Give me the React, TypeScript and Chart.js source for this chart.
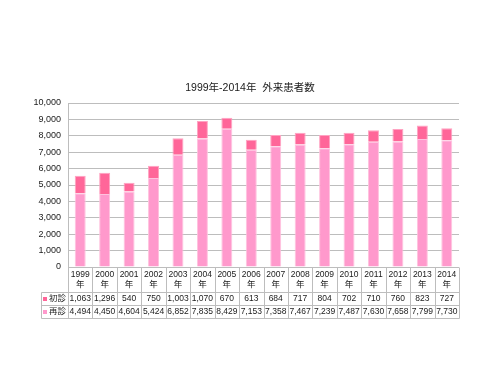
import React, { useEffect, useRef } from "react";
import { Chart, registerables } from "chart.js";

Chart.register(...registerables);

const years = ["1999", "2000", "2001", "2002", "2003", "2004", "2005", "2006", "2007", "2008", "2009", "2010", "2011", "2012", "2013", "2014"];
const yearSuffix = "年";
const firstVisit = [1063, 1296, 540, 750, 1003, 1070, 670, 613, 684, 717, 804, 702, 710, 760, 823, 727];
const returnVisit = [4494, 4450, 4604, 5424, 6852, 7835, 8429, 7153, 7358, 7467, 7239, 7487, 7630, 7658, 7799, 7730];
const firstLabel = "初診";
const returnLabel = "再診";
const titleText = "1999年-2014年  外来患者数";
const yMax = 10000;
const yStep = 1000;

const FONT = '"Liberation Sans", "Noto Sans CJK JP", Arial, sans-serif';
const COLOR_FIRST = "#ff6699";
const COLOR_RETURN = "#ff99cc";
const LINE = "#bdbdbd";
const TEXT = "#1a1a1a";

const fmt = (v: number) => v.toLocaleString("en-US");

const tablePlugin = {
  id: "dataTable",
  afterDraw(chart: any) {
    const ctx = chart.ctx;
    const xs = chart.scales.x;
    const ys = chart.scales.y;
    const left = xs.left;
    const right = xs.right;
    const n = years.length;
    const w = (right - left) / n;
    const top = ys.bottom;
    const hdrBottom = top + 25;
    const r1Bottom = hdrBottom + 13;
    const r2Bottom = r1Bottom + 13;
    const legLeft = left - 27;

    ctx.save();
    // title
    ctx.fillStyle = TEXT;
    ctx.font = `10.5px ${FONT}`;
    ctx.textAlign = "center";
    ctx.textBaseline = "middle";
    ctx.fillText(titleText, chart.width / 2, ys.top - 15);

    ctx.strokeStyle = LINE;
    ctx.lineWidth = 1;
    const line = (x0: number, y0: number, x1: number, y1: number) => {
      ctx.beginPath();
      ctx.moveTo(Math.round(x0) + 0.5, Math.round(y0) + 0.5);
      ctx.lineTo(Math.round(x1) + 0.5, Math.round(y1) + 0.5);
      ctx.stroke();
    };
    for (let i = 0; i <= n; i++) {
      const x = left + i * w;
      line(x, top, x, r2Bottom);
    }
    line(legLeft, hdrBottom, legLeft, r2Bottom);
    line(legLeft, hdrBottom, right, hdrBottom);
    line(legLeft, r1Bottom, right, r1Bottom);
    line(legLeft, r2Bottom, right, r2Bottom);

    ctx.fillStyle = TEXT;
    ctx.font = `8.5px ${FONT}`;
    ctx.textAlign = "center";
    ctx.textBaseline = "middle";
    for (let i = 0; i < n; i++) {
      const cx = xs.getPixelForValue(i);
      ctx.fillText(years[i], cx, top + 7.5);
      ctx.fillText(yearSuffix, cx, top + 18);
      ctx.fillText(fmt(firstVisit[i]), cx, hdrBottom + 7);
      ctx.fillText(fmt(returnVisit[i]), cx, r1Bottom + 7);
    }
    ctx.textAlign = "left";
    ctx.fillStyle = COLOR_FIRST;
    ctx.fillRect(legLeft + 2, hdrBottom + 5, 4, 4);
    ctx.fillStyle = COLOR_RETURN;
    ctx.fillRect(legLeft + 2, r1Bottom + 5, 4, 4);
    ctx.fillStyle = TEXT;
    ctx.fillText(firstLabel, legLeft + 8, hdrBottom + 7);
    ctx.fillText(returnLabel, legLeft + 8, r1Bottom + 7);
    ctx.restore();
  },
};

export default function App() {
  const ref = useRef<HTMLCanvasElement | null>(null);
  useEffect(() => {
    document.body.style.margin = "0";
    if (!ref.current) return;
    const chart = new Chart(ref.current, {
      type: "bar",
      data: {
        labels: years.map((y) => y + yearSuffix),
        datasets: [
          {
            label: returnLabel,
            data: returnVisit,
            backgroundColor: COLOR_RETURN,
            borderColor: "#ffc2de",
            borderWidth: 1,
            barPercentage: 0.45,
            categoryPercentage: 1,
          },
          {
            label: firstLabel,
            data: firstVisit,
            backgroundColor: COLOR_FIRST,
            borderColor: "#ffa3c2",
            borderWidth: 1,
            barPercentage: 0.45,
            categoryPercentage: 1,
          },
        ],
      },
      options: {
        responsive: false,
        animation: false,
        layout: { padding: { left: 0, right: 41, top: 103, bottom: 108 } },
        plugins: {
          legend: { display: false },
          tooltip: { enabled: false },
          title: { display: false },
        },
        scales: {
          x: {
            stacked: true,
            display: false,
          },
          y: {
            stacked: true,
            min: 0,
            max: yMax,
            ticks: {
              stepSize: yStep,
              color: TEXT,
              padding: 7,
              font: { family: FONT, size: 9 },
              callback: (v: any) => fmt(Number(v)),
            },
            grid: { color: LINE, drawTicks: false },
            border: { display: true, color: LINE },
            afterFit: (s: any) => {
              s.width = 68;
            },
          },
        },
      },
      plugins: [tablePlugin],
    });
    return () => chart.destroy();
  }, []);
  return (
    <div style={{ width: 500, height: 375, background: "#fff" }}>
      <canvas ref={ref} width={500} height={375} style={{ display: "block" }} />
    </div>
  );
}
